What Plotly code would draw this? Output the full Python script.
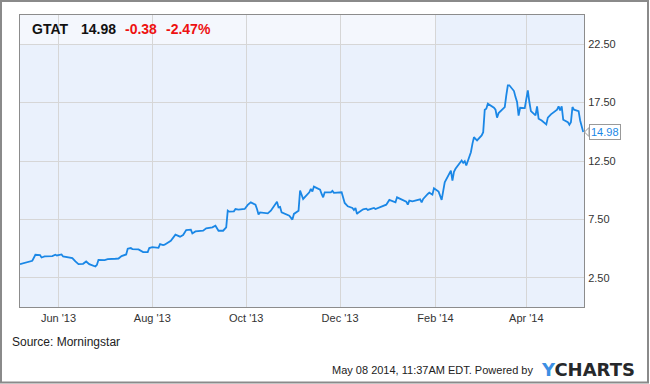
import plotly.graph_objects as go

# ---------------- data ----------------
dates = [
    "2013-05-07", "2013-05-14", "2013-05-15", "2013-05-17", "2013-05-20", "2013-05-21", "2013-05-23",
    "2013-05-28", "2013-05-30", "2013-05-31", "2013-06-03", "2013-06-04", "2013-06-07", "2013-06-10",
    "2013-06-12", "2013-06-14", "2013-06-17", "2013-06-19", "2013-06-21", "2013-06-25", "2013-06-26",
    "2013-06-27", "2013-07-01", "2013-07-03", "2013-07-08", "2013-07-10", "2013-07-12", "2013-07-15",
    "2013-07-16", "2013-07-18", "2013-07-19", "2013-07-23", "2013-07-26", "2013-07-29", "2013-07-30",
    "2013-08-01", "2013-08-05", "2013-08-06", "2013-08-08", "2013-08-09", "2013-08-13", "2013-08-16",
    "2013-08-19", "2013-08-20", "2013-08-21", "2013-08-23", "2013-08-26", "2013-08-27", "2013-08-29",
    "2013-09-03", "2013-09-05", "2013-09-09", "2013-09-11", "2013-09-13", "2013-09-16", "2013-09-18",
    "2013-09-19", "2013-09-20", "2013-09-23", "2013-09-24", "2013-09-26", "2013-09-30", "2013-10-02",
    "2013-10-04", "2013-10-07", "2013-10-08", "2013-10-09", "2013-10-10", "2013-10-15", "2013-10-17",
    "2013-10-21", "2013-10-22", "2013-10-23", "2013-10-24", "2013-10-28", "2013-10-29", "2013-10-31",
    "2013-11-01", "2013-11-04", "2013-11-05", "2013-11-07", "2013-11-11", "2013-11-12", "2013-11-13",
    "2013-11-14", "2013-11-18", "2013-11-19", "2013-11-20", "2013-11-21", "2013-11-25", "2013-11-26",
    "2013-11-27", "2013-12-02", "2013-12-04", "2013-12-06", "2013-12-09", "2013-12-10", "2013-12-11",
    "2013-12-12", "2013-12-13", "2013-12-16", "2013-12-18", "2013-12-19", "2013-12-23", "2013-12-24",
    "2013-12-27", "2013-12-30", "2013-12-31", "2014-01-02", "2014-01-06", "2014-01-07", "2014-01-09",
    "2014-01-13", "2014-01-14", "2014-01-15", "2014-01-17", "2014-01-21", "2014-01-22", "2014-01-23",
    "2014-01-24", "2014-01-27", "2014-01-28", "2014-01-30", "2014-01-31", "2014-02-03", "2014-02-05",
    "2014-02-07", "2014-02-10", "2014-02-11", "2014-02-12", "2014-02-13", "2014-02-14", "2014-02-18",
    "2014-02-19", "2014-02-20", "2014-02-21", "2014-02-24", "2014-02-25", "2014-02-26", "2014-02-27",
    "2014-02-28", "2014-03-03", "2014-03-04", "2014-03-05", "2014-03-06", "2014-03-07", "2014-03-10",
    "2014-03-11", "2014-03-12", "2014-03-13", "2014-03-14", "2014-03-17", "2014-03-18", "2014-03-19",
    "2014-03-20", "2014-03-21", "2014-03-24", "2014-03-25", "2014-03-26", "2014-03-27", "2014-03-28",
    "2014-03-31", "2014-04-02", "2014-04-03", "2014-04-04", "2014-04-07", "2014-04-08", "2014-04-09",
    "2014-04-11", "2014-04-14", "2014-04-15", "2014-04-17", "2014-04-21", "2014-04-22", "2014-04-23",
    "2014-04-24", "2014-04-25", "2014-04-28", "2014-04-29", "2014-04-30", "2014-05-01", "2014-05-02",
    "2014-05-05", "2014-05-06", "2014-05-08",
]
prices = [
    3.67, 3.90, 3.96, 4.47, 4.45, 4.24, 4.33,
    4.36, 4.47, 4.41, 4.50, 4.33, 4.24, 4.19,
    3.90, 3.67, 3.70, 3.90, 3.67, 3.47, 3.61,
    4.04, 4.02, 4.10, 4.13, 4.15, 4.36, 4.50,
    4.99, 5.05, 4.96, 4.93, 4.70, 4.70, 5.05,
    5.13, 5.07, 5.39, 5.30, 5.33, 5.67, 6.19,
    6.02, 6.13, 6.16, 6.59, 6.62, 6.30, 6.47,
    6.53, 6.73, 6.82, 6.96, 6.53, 6.53, 6.82,
    8.25, 8.16, 8.19, 8.39, 8.33, 8.39, 8.74,
    8.96, 8.76, 8.39, 7.93, 8.10, 8.02, 8.25,
    9.02, 8.53, 8.57, 8.10, 7.88, 7.82, 7.48,
    7.97, 8.25, 9.97, 9.25, 9.82, 10.11, 9.88,
    10.31, 10.05, 9.68, 9.39, 9.82, 9.82, 9.94,
    9.77, 9.82, 8.91, 8.62, 8.48, 8.31, 8.48,
    7.97, 8.10, 8.36, 8.42, 8.31, 8.48, 8.39,
    8.53, 8.68, 8.76, 9.17, 8.96, 9.39, 9.25,
    9.02, 8.76, 9.11, 9.05, 9.17, 9.22, 8.96,
    9.25, 9.68, 9.79, 9.62, 10.16, 9.88, 9.17,
    10.68, 11.54, 11.68, 10.82, 11.57, 11.83, 12.54,
    12.34, 12.48, 12.11, 13.25, 13.97, 14.54, 14.40,
    14.26, 14.69, 14.97, 16.89, 16.98, 17.41, 17.18,
    17.06, 16.89, 16.21, 16.60, 16.98, 17.12, 18.12,
    18.98, 18.98, 18.49, 17.97, 17.55, 16.38, 17.06,
    17.03, 18.55, 17.55, 16.77, 16.40, 17.18, 16.12,
    15.97, 15.63, 16.21, 16.49, 16.89, 17.18, 16.83,
    17.18, 16.03, 15.83, 15.61, 15.83, 17.12, 16.89,
    16.77, 15.97, 14.98,
]

ticker = "GTAT"
change = "-0.38"
change_pct = "-2.47%"

x_tickvals = ["2013-06-01", "2013-08-01", "2013-10-01", "2013-12-01", "2014-02-01", "2014-04-01"]
x_ticktext = ["Jun '13", "Aug '13", "Oct '13", "Dec '13", "Feb '14", "Apr '14"]
y_tickvals = [2.5, 7.5, 12.5, 17.5, 22.5]
y_ticktext = ["2.50", "7.50", "12.50", "17.50", "22.50"]

# ---------------- layout constants ----------------
W, H = 650, 384
ML, MR, MT, MB = 20, 66, 15, 77
PW, PH = W - ML - MR, H - MT - MB
LINE = "#1a87e6"
FONT = "Arial, Liberation Sans, sans-serif"

def px_x(p):
    return (p - ML) / PW

def px_y(p):
    return (H - MB - p) / PH

fig = go.Figure()
fig.add_trace(go.Scatter(
    x=dates, y=prices, mode="lines",
    line=dict(color=LINE, width=1.8), hoverinfo="skip", showlegend=False,
))

last = prices[-1]

shapes = [
    # header band
    dict(type="rect", xref="x", yref="y", x0="2013-05-07", x1=x_tickvals[4], y0=22.5, y1=25,
         fillcolor="#f4f7fd", line=dict(width=0), layer="below"),
    # outer frame
    dict(type="rect", xref="paper", yref="paper",
         x0=px_x(1), x1=px_x(W - 2), y0=px_y(H - 1.5), y1=px_y(1),
         line=dict(color="#8a8a8a", width=2), fillcolor="rgba(0,0,0,0)", layer="above"),
    # pointer of last-value label
    dict(type="path", xref="paper", yref="y",
         path=(f"M {px_x(ML + PW + 0.5)},{last} "
               f"L {px_x(ML + PW + 5)},{last + 4.5 * 25 / PH} "
               f"L {px_x(ML + PW + 5)},{last - 4.5 * 25 / PH} Z"),
         fillcolor="white", line=dict(color="#999999", width=1), layer="above"),
]

annotations = [
    dict(xref="paper", yref="paper", x=px_x(30), y=px_y(29), xanchor="left", yanchor="middle",
         text=f"<b>{ticker}</b>", showarrow=False, font=dict(family=FONT, size=14, color="#111")),
    dict(xref="paper", yref="paper", x=px_x(78.5), y=px_y(29), xanchor="left", yanchor="middle",
         text=f"<b>{last:.2f}</b>", showarrow=False, font=dict(family=FONT, size=14, color="#111")),
    dict(xref="paper", yref="paper", x=px_x(123), y=px_y(29), xanchor="left", yanchor="middle",
         text=f"<b>{change}</b>", showarrow=False, font=dict(family=FONT, size=14, color="#ee1111")),
    dict(xref="paper", yref="paper", x=px_x(163.5), y=px_y(29), xanchor="left", yanchor="middle",
         text=f"<b>{change_pct}</b>", showarrow=False, font=dict(family=FONT, size=14, color="#ee1111")),
    # last value label
    dict(xref="paper", yref="y", x=px_x(ML + PW + 5), y=last, xanchor="left", yanchor="middle",
         text=f"{last:.2f}", showarrow=False, font=dict(family=FONT, size=11, color=LINE),
         bgcolor="white", bordercolor="#999999", borderwidth=1, borderpad=1),
    # footer
    dict(xref="paper", yref="paper", x=px_x(10), y=px_y(342), xanchor="left", yanchor="middle",
         text="Source: Morningstar", showarrow=False, font=dict(family=FONT, size=12, color="#222")),
    dict(xref="paper", yref="paper", x=px_x(535), y=px_y(370), xanchor="right", yanchor="middle",
         text="May 08 2014, 11:37AM EDT. Powered by", showarrow=False,
         font=dict(family=FONT, size=11, color="#222")),
    dict(xref="paper", yref="paper", x=px_x(539), y=px_y(369.5), xanchor="left", yanchor="middle",
         text="<b><span style='color:#3d8fe3'>Y</span>CHARTS</b>", showarrow=False,
         font=dict(family="DejaVu Sans, sans-serif", size=18, color="#26282b")),
]

fig.update_layout(
    width=W, height=H,
    margin=dict(l=ML, r=MR, t=MT, b=MB, pad=0),
    paper_bgcolor="white", plot_bgcolor="#eaf1fc",
    font=dict(family=FONT, size=11, color="#333"),
    shapes=shapes, annotations=annotations,
    xaxis=dict(
        range=["2013-05-07", "2014-05-08 12:00"], tickvals=x_tickvals, ticktext=x_ticktext,
        showgrid=True, gridcolor="#d6d6d6", gridwidth=1, zeroline=False,
        showline=True, linecolor="#8c8c8c", linewidth=1, mirror=True,
        ticks="outside", ticklen=1, tickcolor="rgba(0,0,0,0)",
        tickfont=dict(family=FONT, size=11, color="#333"), fixedrange=True,
    ),
    yaxis=dict(
        range=[0, 25], side="right", tickvals=y_tickvals, ticktext=y_ticktext,
        showgrid=True, gridcolor="#d6d6d6", gridwidth=1, zeroline=False,
        showline=True, linecolor="#8c8c8c", linewidth=1, mirror=True,
        ticks="outside", ticklen=1, tickcolor="rgba(0,0,0,0)",
        tickfont=dict(family=FONT, size=11, color="#333"), fixedrange=True,
    ),
)

fig.write_html("out.html", config=dict(displayModeBar=False))
